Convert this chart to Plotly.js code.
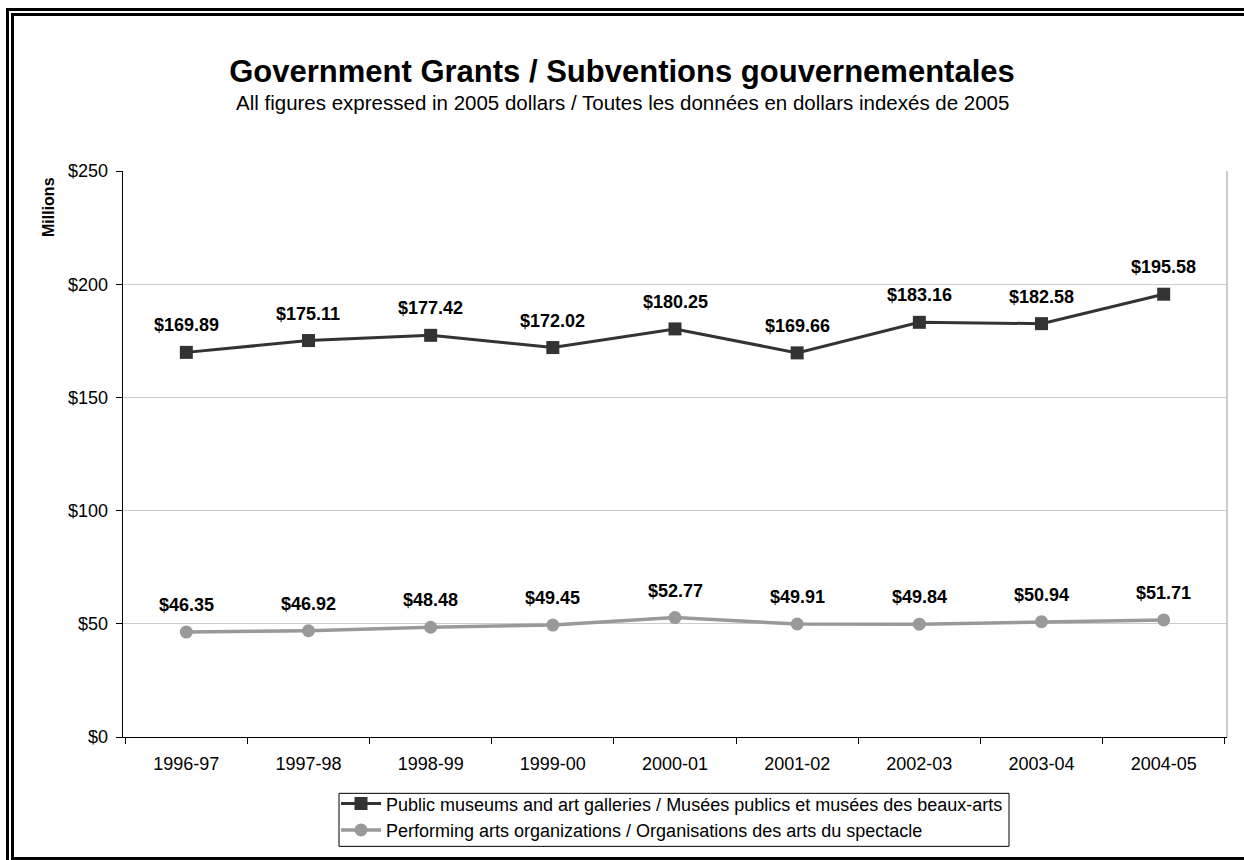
<!DOCTYPE html>
<html>
<head>
<meta charset="utf-8">
<script src="https://cdn.plot.ly/plotly-3.0.1.min.js"></script>
<style>
  html, body { margin: 0; padding: 0; background: #fff; }
  #wrap { position: relative; width: 1244px; height: 860px; overflow: hidden; }
  #chart { position: absolute; left: 0; top: 0; width: 1244px; height: 860px; }
  .fr { position: absolute; background: #000; pointer-events: none; }
</style>
</head>
<body>
<div id="wrap">
  <div id="chart"></div>
  <div class="fr" style="left:6px;top:8px;width:3px;height:852px;"></div>
  <div class="fr" style="left:6px;top:8px;width:1238px;height:3px;"></div>
  <div class="fr" style="left:11px;top:13px;width:3px;height:847px;"></div>
  <div class="fr" style="left:11px;top:13px;width:1233px;height:3px;"></div>
  <div class="fr" style="left:11px;top:857px;width:1233px;height:3px;"></div>
</div>
<script>
const years = ["1996-97","1997-98","1998-99","1999-00","2000-01","2001-02","2002-03","2003-04","2004-05"];
const museums = [169.89, 175.11, 177.42, 172.02, 180.25, 169.66, 183.16, 182.58, 195.58];
const performing = [46.35, 46.92, 48.48, 49.45, 52.77, 49.91, 49.84, 50.94, 51.71];
const museumsName = "Public museums and art galleries / Musées publics et musées des beaux-arts";
const performingName = "Performing arts organizations / Organisations des arts du spectacle";
const titleText = "Government Grants / Subventions gouvernementales";
const subtitleText = "All figures expressed in 2005 dollars / Toutes les données en dollars indexés de 2005";
const yTitle = "Millions";

const FONT = "Liberation Sans, Arial, sans-serif";
const PLOT_TOP = 171, PLOT_BOTTOM = 736.7, PLOT_H = PLOT_BOTTOM - PLOT_TOP;
const PLOT_LEFT = 123, PLOT_W = 1244 - 17 - 123;
function py(pix) { return (PLOT_BOTTOM - pix) / PLOT_H; }
function px(pix) { return (pix - PLOT_LEFT) / PLOT_W; }

const traces = [
  {
    x: years, y: museums, name: museumsName, type: "scatter", mode: "lines+markers",
    line: {color: "#333333", width: 3},
    marker: {symbol: "square", size: 13, color: "#333333"}
  },
  {
    x: years, y: performing, name: performingName, type: "scatter", mode: "lines+markers",
    line: {color: "#999999", width: 3.5},
    marker: {symbol: "circle", size: 13, color: "#999999"}
  }
];

const annotations = [];
[museums, performing].forEach(series => {
  series.forEach((v, i) => {
    annotations.push({
      x: years[i], y: v, xref: "x", yref: "y",
      text: "$" + v.toFixed(2), showarrow: false,
      yshift: 27, font: {family: FONT, size: 18, color: "#000", weight: "bold"}
    });
  });
});
annotations.push({
  xref: "paper", yref: "paper", x: px(622), y: py(103), xanchor: "center", yanchor: "middle",
  text: subtitleText, showarrow: false, font: {family: FONT, size: 20.5, color: "#000"}
});
annotations.push({
  xref: "paper", yref: "paper", x: px(48), y: py(207), xanchor: "center", yanchor: "middle",
  textangle: -90, text: "<b>" + yTitle + "</b>", showarrow: false,
  font: {family: FONT, size: 16, color: "#000"}
});

const layout = {
  width: 1244, height: 860,
  paper_bgcolor: "#fff", plot_bgcolor: "#fff",
  margin: {l: 123, r: 17, t: 171, b: 123.3, pad: 0, autoexpand: false},
  font: {family: FONT, color: "#000"},
  title: {
    text: "<b>" + titleText + "</b>",
    font: {family: FONT, size: 31, color: "#000"},
    x: 0.5, xref: "container", xanchor: "center",
    y: 1 - 71/860, yref: "container", yanchor: "middle"
  },
  xaxis: {
    type: "category", tickson: "boundaries", ticks: "outside", ticklen: 6, tickcolor: "#000",
    showline: true, linecolor: "#000", linewidth: 1.3, showgrid: false, zeroline: false,
    tickfont: {family: FONT, size: 18, color: "#000"}, ticklabelstandoff: 10, fixedrange: true
  },
  yaxis: {
    range: [0, 250], dtick: 50, tickprefix: "$", ticks: "outside", ticklen: 6, tickcolor: "#000",
    showline: true, linecolor: "#000", linewidth: 1.3, gridcolor: "#cccccc", gridwidth: 1,
    zeroline: false, tickfont: {family: FONT, size: 18, color: "#000"}, ticklabelstandoff: 4, fixedrange: true
  },
  shapes: [
    {type: "line", xref: "paper", yref: "paper", x0: 1, x1: 1, y0: 0, y1: 1, line: {color: "#bdbdbd", width: 1.5}},
    {type: "rect", xref: "paper", yref: "paper", x0: px(339), x1: px(1009), y0: py(793), y1: py(846),
     line: {color: "#000", width: 1}, fillcolor: "#fff", layer: "above"}
  ],
  legend: {
    x: px(336), y: py(785), xanchor: "left", yanchor: "top",
    orientation: "v", bgcolor: "rgba(0,0,0,0)", borderwidth: 0,
    font: {family: FONT, size: 18, color: "#000"}, tracegroupgap: 0, itemwidth: 40
  },
  showlegend: true,
  annotations: annotations
};

Plotly.newPlot("chart", traces, layout, {displayModeBar: false, staticPlot: true});
</script>
</body>
</html>
